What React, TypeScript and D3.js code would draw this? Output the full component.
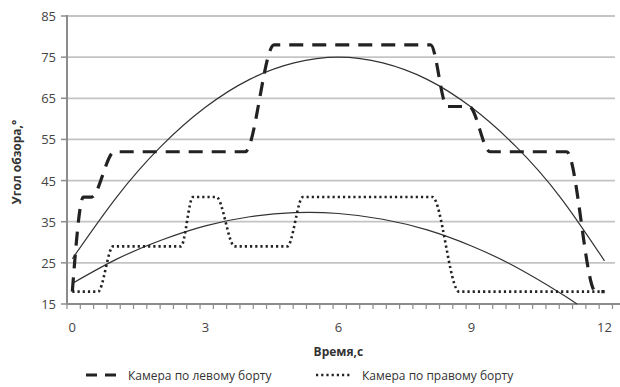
import { useEffect, useRef } from 'react';
import * as d3 from 'd3';

// Камера по левому борту (штриховая)
const leftX = [0, 0.25, 0.43, 0.95, 3.9, 4.55, 8.08, 8.45, 8.95, 9.42, 11.15, 11.8, 12];
const leftY = [18, 41, 41, 52, 52, 78, 78, 63, 63, 52, 52, 18, 18];

// Камера по правому борту (пунктир)
const rightX = [0, 0.58, 0.92, 2.45, 2.72, 3.25, 3.66, 4.85, 5.2, 8.12, 8.72, 12];
const rightY = [18, 18, 29, 29, 41, 41, 29, 29, 41, 41, 18, 18];

// линии тренда (значения)
const trendUpX = [0, 1, 2, 3, 4, 5, 6, 7, 8, 9, 10, 11, 12];
const trendUpY = [26, 41, 53.3, 62.8, 69.6, 73.6, 75, 73.6, 69.6, 62.8, 53.3, 41, 25.5];
const trendLowX = [0, 1, 2, 3, 4, 5, 6, 7, 8, 9, 10, 11, 11.38];
const trendLowY = [20, 25.9, 30.5, 34, 36.2, 37.2, 37, 35.6, 33, 29.1, 24, 17.7, 15];

const yTicks = [15, 25, 35, 45, 55, 65, 75, 85];
const xTicks = [0, 3, 6, 9, 12];

const W = 620;
const H = 387;
const FONT = '"Open Sans", "Liberation Sans", sans-serif';

export default function App() {
  const svgRef = useRef<SVGSVGElement>(null);

  useEffect(() => {
    if (!svgRef.current) return;
    const svg = d3.select(svgRef.current);
    svg.selectAll('*').remove();

    const x = d3.scaleLinear().domain([-0.12, 12.35]).range([67, 620]);
    const y = d3.scaleLinear().domain([15, 85]).range([304, 16]);

    // сетка
    svg
      .selectAll('.grid')
      .data(yTicks.slice(1))
      .enter()
      .append('line')
      .attr('x1', 67)
      .attr('x2', 615)
      .attr('y1', (d) => y(d))
      .attr('y2', (d) => y(d))
      .attr('stroke', '#c4c4c4')
      .attr('stroke-width', 1.8);

    // оси
    svg.append('line').attr('x1', 67).attr('x2', 67).attr('y1', y(85) - 1).attr('y2', y(15)).attr('stroke', '#8c8c8c').attr('stroke-width', 2);
    svg.append('line').attr('x1', 67).attr('x2', 620).attr('y1', y(15)).attr('y2', y(15)).attr('stroke', '#8c8c8c').attr('stroke-width', 2);

    // засечки оси Y
    svg
      .selectAll('.ytick')
      .data(yTicks)
      .enter()
      .append('line')
      .attr('x1', 61)
      .attr('x2', 67)
      .attr('y1', (d) => y(d))
      .attr('y2', (d) => y(d))
      .attr('stroke', '#8c8c8c')
      .attr('stroke-width', 1.5);

    // мелкие засечки оси X
    const minor = d3.range(-0.12, 12.36, 0.3);
    svg
      .selectAll('.xtick')
      .data(minor)
      .enter()
      .append('line')
      .attr('x1', (d) => x(d))
      .attr('x2', (d) => x(d))
      .attr('y1', y(15))
      .attr('y2', y(15) + 5)
      .attr('stroke', '#8c8c8c')
      .attr('stroke-width', 1.2);

    // подписи
    svg
      .selectAll('.ylab')
      .data(yTicks)
      .enter()
      .append('text')
      .attr('x', 56)
      .attr('y', (d) => y(d) + 5)
      .attr('text-anchor', 'end')
      .attr('font-family', FONT)
      .attr('font-size', 13)
      .attr('fill', '#444')
      .text((d) => d);

    svg
      .selectAll('.xlab')
      .data(xTicks)
      .enter()
      .append('text')
      .attr('x', (d) => x(d))
      .attr('y', 332)
      .attr('text-anchor', 'middle')
      .attr('font-family', FONT)
      .attr('font-size', 13)
      .attr('fill', '#444')
      .text((d) => d);

    svg
      .append('text')
      .attr('x', x(6))
      .attr('y', 356)
      .attr('text-anchor', 'middle')
      .attr('font-family', FONT)
      .attr('font-size', 12)
      .attr('font-weight', 'bold')
      .attr('fill', '#333')
      .text('Время,с');

    svg
      .append('text')
      .attr('transform', 'translate(21,162) rotate(-90)')
      .attr('text-anchor', 'middle')
      .attr('font-family', FONT)
      .attr('font-size', 12)
      .attr('font-weight', 'bold')
      .attr('fill', '#333')
      .text('Угол обзора,°');

    const line = (xs: number[], ys: number[], curve: d3.CurveFactory) =>
      d3
        .line<number>()
        .x((_, i) => x(xs[i]))
        .y((d) => y(d))
        .curve(curve)(ys);

    // тренды
    svg.append('path').attr('d', line(trendUpX, trendUpY, d3.curveNatural)).attr('fill', 'none').attr('stroke', '#333').attr('stroke-width', 1.2);
    svg.append('path').attr('d', line(trendLowX, trendLowY, d3.curveNatural)).attr('fill', 'none').attr('stroke', '#333').attr('stroke-width', 1.2);

    // ряды
    svg
      .append('path')
      .attr('d', line(rightX, rightY, d3.curveMonotoneX))
      .attr('fill', 'none')
      .attr('stroke', '#222')
      .attr('stroke-width', 2.6)
      .attr('stroke-dasharray', '2.2,3');
    svg
      .append('path')
      .attr('d', line(leftX, leftY, d3.curveMonotoneX))
      .attr('fill', 'none')
      .attr('stroke', '#222')
      .attr('stroke-width', 3.2)
      .attr('stroke-dasharray', '14,9');

    // легенда
    const lg = svg.append('g');
    lg.append('line').attr('x1', 86).attr('x2', 117).attr('y1', 375).attr('y2', 375).attr('stroke', '#222').attr('stroke-width', 3.2).attr('stroke-dasharray', '11,8');
    lg.append('text').attr('x', 128).attr('y', 379.5).attr('font-family', FONT).attr('font-size', 12).attr('fill', '#333').text('Камера по левому борту');
    lg.append('line').attr('x1', 316).attr('x2', 350).attr('y1', 375).attr('y2', 375).attr('stroke', '#222').attr('stroke-width', 2.6).attr('stroke-dasharray', '2.2,3');
    lg.append('text').attr('x', 362).attr('y', 379.5).attr('font-family', FONT).attr('font-size', 12).attr('fill', '#333').text('Камера по правому борту');
  }, []);

  return (
    <svg
      ref={svgRef}
      width={W}
      height={H}
      style={{ position: 'absolute', left: 0, top: 0, background: '#fff' }}
    />
  );
}
